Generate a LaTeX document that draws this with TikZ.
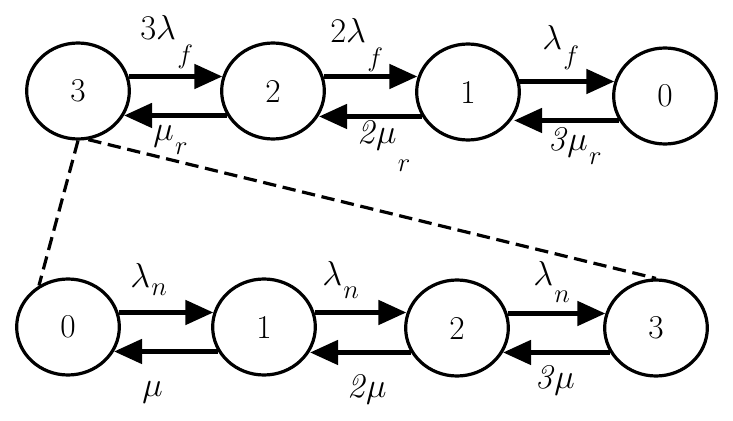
\documentclass[tikz,border=0pt]{standalone}
\usepackage{fix-cm}
\usetikzlibrary{arrows.meta,shapes.geometric}
\newcommand{\nsub}[2]{\hspace{1pt}\raisebox{-#1}{\fontsize{20}{20}\selectfont$#2$}}
\begin{document}
\begin{tikzpicture}[x=0.75pt,y=-0.75pt,
  state/.style={draw,ellipse,line width=2.4pt,minimum width=77pt,minimum height=72pt,inner sep=0pt,font=\fontsize{25}{25}\selectfont},
  tr/.style={line width=3.6pt,-{Triangle[length=21pt,width=18pt]}},
  lnk/.style={line width=2.4pt,dash pattern=on 10pt off 5pt},
  lab/.style={anchor=base west,inner sep=0pt,font=\fontsize{26}{26}\selectfont}]
\useasboundingbox (0,0) rectangle (733,421);
% top row
\node[state] (t3) at (78,91) {3};
\node[state] (t2) at (273,91) {2};
\node[state] (t1) at (468,92) {1};
\node[state] (t0) at (665,96) {0};
% bottom row
\node[state] (b0) at (68,327) {0};
\node[state] (b1) at (264,327) {1};
\node[state] (b2) at (457,328) {2};
\node[state] (b3) at (656,328) {3};
% top arrows
\draw[tr] (t3.16) -- (t3.16 -| t2.164);
\draw[tr] (t2.208) -- (t2.208 -| t3.332);
\draw[tr] (t2.16) -- (t2.16 -| t1.164);
\draw[tr] (t1.208) -- (t1.208 -| t2.332);
\draw[tr] (t1.16 |- t0.164) -- (t0.164);
\draw[tr] (t0.208) -- (t0.208 -| t1.332);
% bottom arrows
\draw[tr] (b0.16) -- (b0.16 -| b1.164);
\draw[tr] (b1.208) -- (b1.208 -| b0.332);
\draw[tr] (b1.16) -- (b1.16 -| b2.164);
\draw[tr] (b2.208) -- (b2.208 -| b1.332);
\draw[tr] (b2.16) -- (b2.16 -| b3.164);
\draw[tr] (b3.208) -- (b3.208 -| b2.332);
% dashed links
\draw[lnk] (t3.south) -- (b0.125);
\draw[lnk] (t3.282) -- (b3.north);
% labels
\node[lab] (l1) at (140,40) {3$\lambda$\nsub{18pt}{f}};
\node[lab] (l2) at (330,42) {2$\lambda$\nsub{18pt}{f}};
\node[lab] (l3) at (542,50) {$\lambda$\nsub{11pt}{f}};
\node[lab] (l4) at (153,140) {$\mu$\nsub{11pt}{r}};
\node[lab] (l5) at (357,143) {\textit{2}$\mu$\nsub{21pt}{r}};
\node[lab] (l6) at (548,150) {\textit{3}$\mu$\nsub{11pt}{r}};
\node[lab] (l7) at (130,287) {$\lambda$\nsub{6pt}{n}};
\node[lab] (l8) at (322,285) {$\lambda$\nsub{10pt}{n}};
\node[lab] (l9) at (533,285) {$\lambda$\nsub{13pt}{n}};
\node[lab] (l10) at (142,396) {$\mu$};
\node[lab] (l11) at (347,397) {\textit{2}$\mu$};
\node[lab] (l12) at (535,388) {\textit{3}$\mu$};
\end{tikzpicture}
\end{document}
